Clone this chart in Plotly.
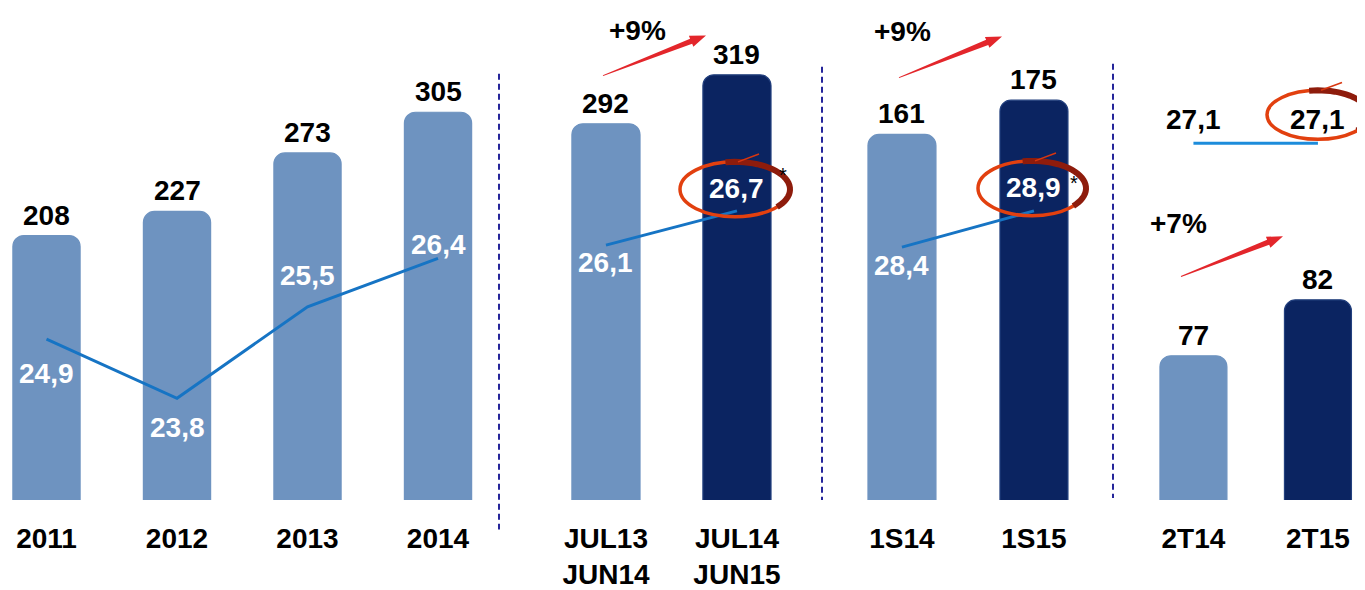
import numpy as np
import plotly.graph_objects as go

# the page body adds an 8px margin, so the figure is laid out 8px smaller
OFF = 8
W, H = 1365 - OFF, 590 - OFF
BASE = 510                 # y of the bar bottoms in the finished picture
PLOT_H = BASE - OFF

# ---- data -----------------------------------------------------------------
years = ["2011", "2012", "2013", "2014"]
sales_years = [208, 227, 273, 305]
margin_years = [24.9, 23.8, 25.5, 26.4]

ltm = ["JUL13<br>JUN14", "JUL14<br>JUN15"]
sales_ltm = [292, 319]
margin_ltm = [26.1, 26.7]

halves = ["1S14", "1S15"]
sales_halves = [161, 175]
margin_halves = [28.4, 28.9]

quarters = ["2T14", "2T15"]
sales_quarters = [77, 82]
margin_quarters = [27.1, 27.1]

growth = ["+9%", "+9%", "+7%"]

# ---- style ----------------------------------------------------------------
LIGHT = "#6E93C0"
DARK = "#0B2461"
DARK_EDGE = "#23407E"
LINE = "#1674C4"
FONT = "Liberation Sans, Arial, sans-serif"


def px(x):
    return (x - OFF) / W


def py(y):
    return 1 - (y - OFF) / PLOT_H


def fmt(v):
    return f"{v:.1f}".replace(".", ",")


panels = [
    dict(cats=years, sales=sales_years, margin=margin_years,
         dom=(8, 500), xr=(-0.295, 3.475), bw=0.515,
         yr=(0, 387.0), lr=(21.91, 31.05),
         colors=[LIGHT] * 4, shifts=[-34, -29, 31, 14], lab="white", line=LINE),
    dict(cats=ltm, sales=sales_ltm, margin=margin_ltm,
         dom=(500, 820), xr=(-0.809, 1.634), bw=0.52,
         yr=(84.7, 355.8), lr=(21.64, 30.25),
         colors=[LIGHT, DARK], shifts=[-17, 22], lab="white", line=LINE),
    dict(cats=halves, sales=sales_halves, margin=margin_halves,
         dom=(820, 1115), xr=(-0.621, 1.614), bw=0.515,
         yr=(11.8, 212.6), lr=(24.91, 31.70),
         colors=[LIGHT, DARK], shifts=[-18, 23], lab="white", line=LINE),
    dict(cats=quarters, sales=sales_quarters, margin=margin_quarters,
         dom=(1115, 1365), xr=(-0.63, 1.378), bw=0.538,
         yr=(64.1, 108.1), lr=(19.82, 29.86),
         colors=[LIGHT, DARK], shifts=[24, 24], lab="black", line="#1C8CDB"),
]

fig = go.Figure()
annotations = []
shapes = []
layout_axes = {}

for i, p in enumerate(panels):
    n = i + 1
    xa = "x" if n == 1 else f"x{n}"
    ya = "y" if n == 1 else f"y{n}"
    yl = f"y{n + 4}"

    edges = [DARK_EDGE if c == DARK else c for c in p["colors"]]
    fig.add_trace(go.Bar(
        x=p["cats"], y=p["sales"], width=p["bw"],
        marker=dict(color=p["colors"], cornerradius=11,
                    line=dict(width=1.2, color=edges)),
        xaxis=xa, yaxis=ya, showlegend=False, hoverinfo="skip",
    ))
    fig.add_trace(go.Scatter(
        x=p["cats"], y=p["margin"], mode="lines",
        line=dict(color=p["line"], width=3),
        xaxis=xa, yaxis=yl, showlegend=False, hoverinfo="skip",
        cliponaxis=False,
    ))

    # annotation x uses the category index (labels like "2011" read as numbers)
    for j, v in enumerate(p["sales"]):
        annotations.append(dict(
            x=j, y=v, xref=xa, yref=ya, text=str(v), showarrow=False,
            yanchor="bottom", yshift=3,
            font=dict(family=FONT, size=28, color="black", weight="bold"),
        ))
    for j, (v, s) in enumerate(zip(p["margin"], p["shifts"])):
        annotations.append(dict(
            x=j, y=v, xref=xa, yref=yl, text=fmt(v), showarrow=False,
            yanchor="middle", yshift=s,
            font=dict(family=FONT, size=28, color=p["lab"], weight="bold"),
        ))

    key = "" if n == 1 else str(n)
    layout_axes[f"xaxis{key}"] = dict(
        domain=[px(p["dom"][0]), px(p["dom"][1])], range=list(p["xr"]),
        type="category", anchor=ya, showgrid=False, zeroline=False,
        showline=False, ticks="", ticklabelstandoff=19,
        tickfont=dict(family=FONT, size=28, color="black", weight="bold"),
    )
    layout_axes[f"yaxis{key}"] = dict(
        domain=[0, 1], range=list(p["yr"]), anchor=xa, visible=False,
    )
    layout_axes[f"yaxis{n + 4}"] = dict(
        overlaying=ya, range=list(p["lr"]), anchor=xa, visible=False,
    )

# dashed separators between blocks
for x, y0, y1 in [(499, 75, 540), (822, 68, 510), (1113, 65, 508)]:
    shapes.append(dict(type="line", xref="paper", yref="paper",
                       x0=px(x), x1=px(x), y0=py(y0), y1=py(y1),
                       line=dict(color="#25259A", width=2, dash="6px,4px")))


# red growth arrows
def swoosh(tail, tip):
    t = np.array(tail, float)
    h = np.array(tip, float)
    d = (h - t) / np.linalg.norm(h - t)
    nrm = np.array([-d[1], d[0]])
    b = h - 16 * d
    pts = [t + nrm * 0.5, b + nrm * 2.8, b + nrm * 6, h,
           b - nrm * 6, b - nrm * 2.8, t - nrm * 0.5]
    path = "M" + " L".join(f"{px(x):.5f},{py(y):.5f}" for x, y in pts) + " Z"
    return dict(type="path", path=path, xref="paper", yref="paper",
                fillcolor="#E3262B", line=dict(width=0))


arrows = [((603, 77), (706, 36), (637, 31)),
          ((899, 79), (1002, 37), (933, 32)),
          ((1181, 282), (1283, 241), (1209, 228))]
for (tail, tip, tpos), g in zip(arrows, growth):
    shapes.append(swoosh(tail, tip))
    annotations.append(dict(
        x=px(tpos[0]), y=py(tpos[1]), xref="paper", yref="paper", text=g,
        showarrow=False, yanchor="middle",
        font=dict(family=FONT, size=28, color="black", weight="bold"),
    ))


# hand-drawn highlight circles
def hand_circle(cx, cy, rx, ry):
    out = [dict(type="circle", xref="paper", yref="paper",
                x0=px(cx - rx), x1=px(cx + rx), y0=py(cy + ry), y1=py(cy - ry),
                line=dict(color="#E2400F", width=3.5))]
    ang = np.linspace(np.radians(100), np.radians(-40), 30)
    pts = [(cx + rx * np.cos(a), cy - ry * np.sin(a)) for a in ang]
    path = "M" + " L".join(f"{px(x):.5f},{py(y):.5f}" for x, y in pts)
    out.append(dict(type="path", path=path, xref="paper", yref="paper",
                    line=dict(color="#8E1C0C", width=6)))
    out.append(dict(type="line", xref="paper", yref="paper",
                    x0=px(cx + 3), y0=py(cy - ry), x1=px(cx + 24), y1=py(cy - ry - 8),
                    line=dict(color="#D8360F", width=1.5)))
    return out


for c in [(735, 193, 55, 28), (1032, 192, 54, 28), (1318, 117, 51, 25)]:
    shapes.extend(hand_circle(*c))

for x, y in [(783, 165), (1080, 173)]:
    annotations.append(dict(
        x=px(x), y=py(y), xref="paper", yref="paper", text="*",
        showarrow=False, font=dict(family=FONT, size=20, color="black"),
    ))

fig.update_layout(
    width=W, height=H,
    margin=dict(l=0, r=0, t=0, b=H - PLOT_H, pad=0),
    paper_bgcolor="white", plot_bgcolor="rgba(0,0,0,0)",
    barmode="overlay", showlegend=False,
    annotations=annotations, shapes=shapes,
    **layout_axes,
)

fig.write_html("out.html")
